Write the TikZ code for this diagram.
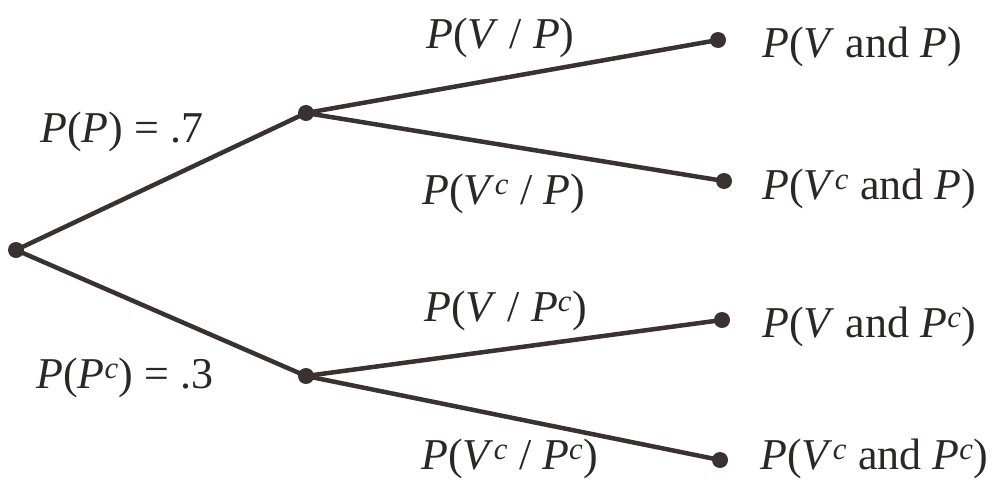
\documentclass[tikz,border=0pt]{standalone}
\usepackage{fontspec}
\setmainfont{Liberation Serif}
\definecolor{ink}{HTML}{3A3230}
\definecolor{txt}{HTML}{2B2727}
\newcommand{\I}[1]{\textit{#1}}
\newcommand{\Sc}{\textsuperscript{\textit{c}}}
\begin{document}
\begin{tikzpicture}[x=1pt,y=-1pt,
  dot/.style={circle,fill=ink,inner sep=0pt,minimum size=16pt},
  branch/.style={draw=ink,line width=4.5pt},
  lab/.style={anchor=base west,inner sep=0pt,text=txt,font=\fontsize{44}{50}\selectfont}]
\useasboundingbox (0,0) rectangle (996,480);
\node[dot] (r) at (16,250) {};
\node[dot] (u) at (306,113) {};
\node[dot] (d) at (306,376) {};
\node[dot] (l1) at (718,40) {};
\node[dot] (l2) at (724,181) {};
\node[dot] (l3) at (722,320) {};
\node[dot] (l4) at (720,460) {};
\draw[branch] (r.center) -- (u.center);
\draw[branch] (r.center) -- (d.center);
\draw[branch] (u.center) -- (l1.center);
\draw[branch] (u.center) -- (l2.center);
\draw[branch] (d.center) -- (l3.center);
\draw[branch] (d.center) -- (l4.center);
\node[lab] (t1) at (40,142) {\I{P}(\I{P}) = .7};
\node[lab] (t2) at (36,388) {\I{P}(\I{P}\Sc) = .3};
\node[lab] (t3) at (426,48) {\I{P}(\I{V} / \I{P})};
\node[lab] (t4) at (422,204) {\I{P}(\I{V}\Sc{} / \I{P})};
\node[lab] (t5) at (424,321) {\I{P}(\I{V} / \I{P}\Sc)};
\node[lab] (t6) at (421,469) {\I{P}(\I{V}\Sc{} / \I{P}\Sc)};
\node[lab] (t7) at (762,57) {\I{P}(\I{V} and \I{P})};
\node[lab] (t8) at (762,199) {\I{P}(\I{V}\Sc{} and \I{P})};
\node[lab] (t9) at (762,337) {\I{P}(\I{V} and \I{P}\Sc)};
\node[lab] (t10) at (760,469) {\I{P}(\I{V}\Sc{} and \I{P}\Sc)};
\end{tikzpicture}
\end{document}
